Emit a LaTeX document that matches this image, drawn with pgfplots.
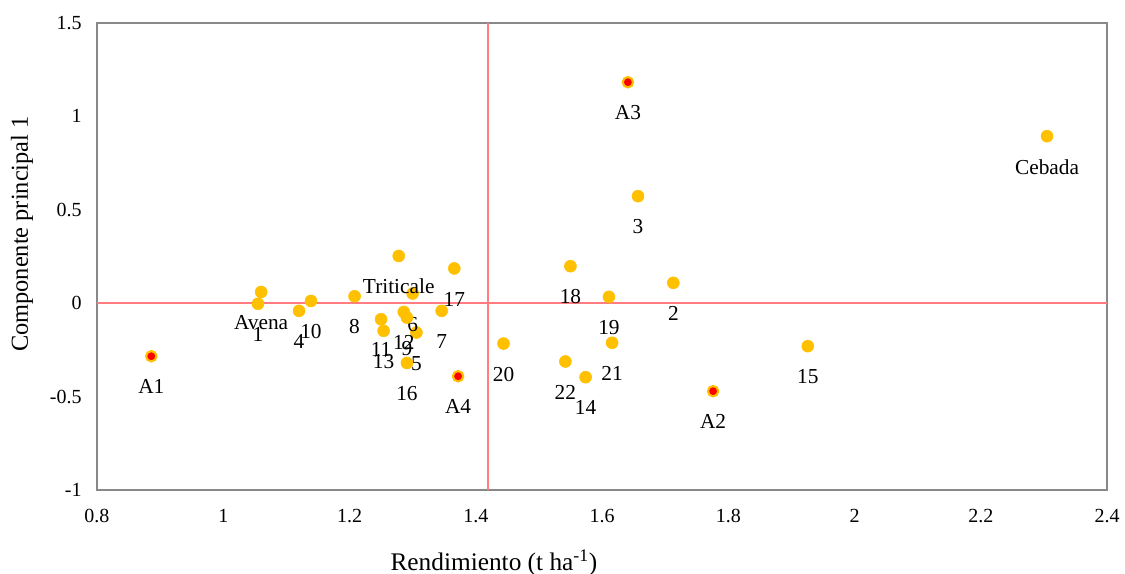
\documentclass[border=0pt]{standalone}
\usepackage{fontspec}
\setmainfont{Liberation Serif}
\usepackage{pgfplots}
\pgfplotsset{compat=1.18}
\definecolor{dotgold}{RGB}{255,192,0}
\definecolor{refred}{RGB}{255,124,128}
\definecolor{framegray}{RGB}{137,137,137}

\pgfplotstableread{
x y lab
1.055 -0.003 1
1.713 0.109 2
1.657 0.573 3
1.120 -0.041 4
1.306 -0.157 5
1.300 0.052 6
1.346 -0.041 7
1.208 0.037 8
1.291 -0.077 9
1.139 0.012 10
1.250 -0.086 11
1.286 -0.047 12
1.254 -0.148 13
1.574 -0.396 14
1.926 -0.230 15
1.291 -0.320 16
1.366 0.186 17
1.550 0.198 18
1.611 0.034 19
1.444 -0.216 20
1.616 -0.212 21
1.542 -0.312 22
1.060 0.060 Avena
1.278 0.253 Triticale
2.305 0.894 Cebada
}\genotipos

\pgfplotstableread{
x y lab
0.886 -0.284 A1
1.776 -0.471 A2
1.641 1.183 A3
1.372 -0.391 A4
}\ambientes

\begin{document}
\begin{tikzpicture}
\useasboundingbox (-72.75pt,-63pt) rectangle (771pt,367.5pt);
\begin{axis}[
  at={(0,0)}, anchor=south west,
  scale only axis,
  width=757.5pt, height=350.25pt,
  xmin=0.8, xmax=2.4, ymin=-1, ymax=1.5,
  xtick={0.8,1,...,2.4},
  ytick={-1,-0.5,0,0.5,1,1.5},
  major tick length=0pt,
  axis line style={framegray, line width=1pt},
  /pgf/number format/assume math mode=true,
  tick label style={font=\fontsize{15}{17}\selectfont},
  x tick label style={yshift=-11pt},
  y tick label style={xshift=-8pt},
  xlabel={Rendimiento (t ha\textsuperscript{-1})},
  ylabel={Componente principal 1},
  xlabel style={font=\fontsize{19}{22}\selectfont, at={(axis description cs:0.393,-0.156)}, anchor=center},
  ylabel style={font=\fontsize{18.3}{21}\selectfont, at={(axis description cs:-0.0743,0.548)}, anchor=center},
  clip=false,
]
\draw[refred, line width=1.3pt] (axis cs:0.8,0) -- (axis cs:2.4,0);
\draw[refred, line width=1.3pt] (axis cs:1.419,-1) -- (axis cs:1.419,1.5);
\addplot[only marks, mark=*, mark size=4.5pt, mark options={fill=dotgold, draw=dotgold},
  point meta=explicit symbolic, nodes near coords,
  nodes near coords style={anchor=center, yshift=-23pt, font=\fontsize{16}{18}\selectfont, text=black}]
  table[x=x, y=y, meta=lab] {\genotipos};
\addplot[only marks, mark=*, mark size=3.9pt, mark options={fill=red, draw=dotgold, line width=1.6pt},
  point meta=explicit symbolic, nodes near coords,
  nodes near coords style={anchor=center, yshift=-23pt, font=\fontsize{16}{18}\selectfont, text=black}]
  table[x=x, y=y, meta=lab] {\ambientes};
\end{axis}
\end{tikzpicture}
\end{document}
